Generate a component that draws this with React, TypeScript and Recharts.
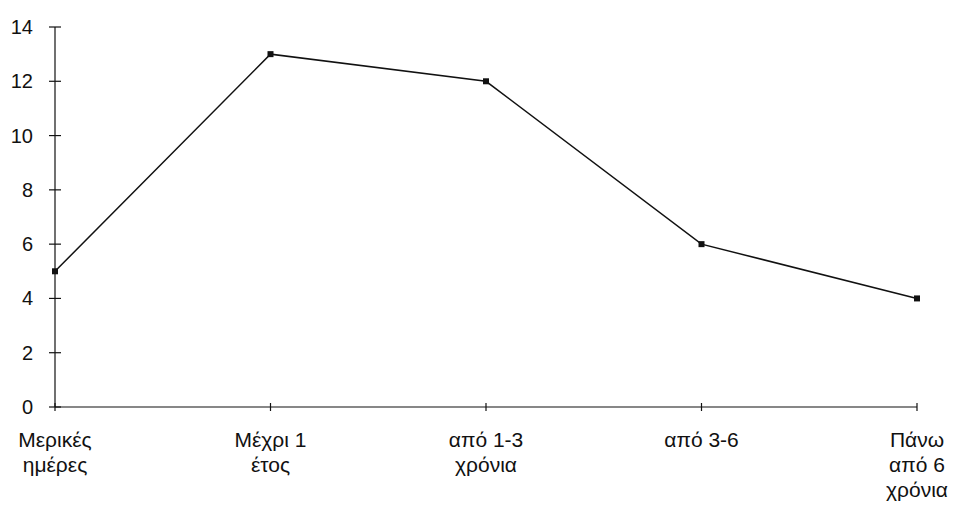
import React from 'react';
import { LineChart, Line, XAxis, YAxis } from 'recharts';

const categories = [
  ['Μερικές', 'ημέρες'],
  ['Μέχρι 1', 'έτος'],
  ['από 1-3', 'χρόνια'],
  ['από 3-6'],
  ['Πάνω', 'από 6', 'χρόνια'],
];
const values = [5, 13, 12, 6, 4];
const yTicks = [0, 2, 4, 6, 8, 10, 12, 14];

const chartData = categories.map((lines, i) => ({
  name: lines.join(' '),
  value: values[i],
}));

const FONT = 'Arial, "Liberation Sans", Helvetica, sans-serif';

const XTick = (props: any) => {
  const { x, y, payload } = props;
  const idx = chartData.findIndex((d) => d.name === payload.value);
  const rows = idx >= 0 ? categories[idx] : [payload.value];
  return (
    <g>
      <line x1={x} x2={x} y1={y - 4} y2={y + 4} stroke="#111" strokeWidth={1.2} />
      <text x={x} y={y + 40} textAnchor="middle" fill="#111" fontSize={21} fontFamily={FONT}>
        {rows.map((r: string, i: number) => (
          <tspan key={i} x={x} dy={i === 0 ? 0 : 25}>
            {r}
          </tspan>
        ))}
      </text>
    </g>
  );
};

const YTick = (props: any) => {
  const { x, y, payload } = props;
  return (
    <g>
      <line x1={x - 6} x2={x + 6} y1={y} y2={y} stroke="#111" strokeWidth={1.2} />
      <text x={x - 22} y={y + 7} textAnchor="end" fill="#111" fontSize={20} fontFamily={FONT}>
        {payload.value}
      </text>
    </g>
  );
};

const Marker = (props: any) => {
  const { cx, cy } = props;
  return <rect x={cx - 3} y={cy - 3} width={6} height={6} fill="#111" />;
};

export default function App() {
  return (
    <div style={{ width: 949, height: 502, background: '#fff' }}>
      <LineChart
        width={949}
        height={502}
        data={chartData}
        margin={{ top: 19, right: 40, bottom: 3, left: 7 }}
      >
        <XAxis
          dataKey="name"
          interval={0}
          tickSize={0}
          tickMargin={0}
          tickLine={false}
          axisLine={{ stroke: '#111', strokeWidth: 1.2 }}
          tick={<XTick />}
          height={100}
          padding={{ left: 0, right: 0 }}
        />
        <YAxis
          domain={[0, 14]}
          ticks={yTicks}
          interval={0}
          tickSize={0}
          tickMargin={0}
          tickLine={false}
          axisLine={{ stroke: '#111', strokeWidth: 1.2 }}
          tick={<YTick />}
          width={40}
        />
        <Line
          type="linear"
          dataKey="value"
          stroke="#111"
          strokeWidth={1.5}
          dot={<Marker />}
          activeDot={false}
          isAnimationActive={false}
        />
      </LineChart>
    </div>
  );
}
